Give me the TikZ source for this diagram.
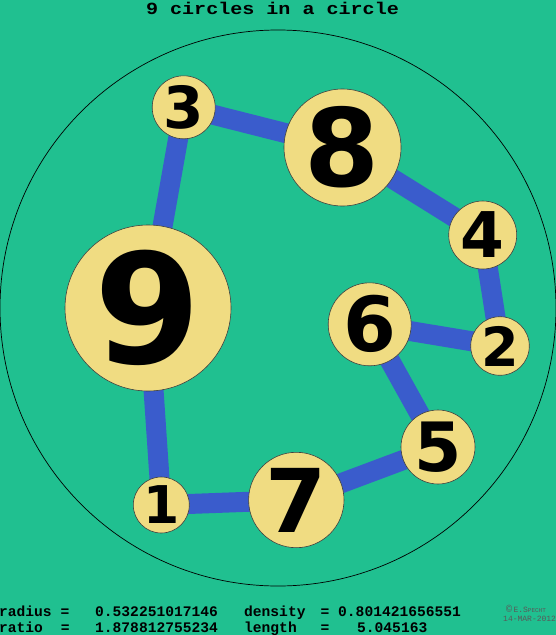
\documentclass[tikz,border=0pt]{standalone}
\usepackage{fontspec}
\usetikzlibrary{backgrounds}
\newfontfamily\monob{Liberation Mono Bold}
\newfontfamily\monot[FakeStretch=1.18]{Liberation Mono Bold}
\newfontfamily\monor{Liberation Mono}
\newfontfamily\digfont{DejaVu Sans Bold}
\definecolor{bggreen}{HTML}{20C090}
\definecolor{ballfill}{HTML}{F0DC82}
\definecolor{linkblue}{HTML}{3A5CCC}
\tikzset{
  ball/.style 2 args={circle, draw=black!75, line width=0.6pt, fill=ballfill, inner sep=0pt,
    minimum size=#1, font=\digfont\fontsize{#2}{#2}\selectfont},
  link/.style={draw=linkblue, line width=20pt},
  info/.style={anchor=base west, inner sep=0pt, font=\monob\fontsize{14.6}{16}\selectfont},
  stamp/.style={anchor=base west, inner sep=0pt, text=black!65, font=\monor\fontsize{8}{9}\selectfont}
}
\begin{document}
\begin{tikzpicture}[x=1pt,y=-1pt]
\useasboundingbox (0,0) rectangle (556,635);
\begin{scope}[on background layer]
  \fill[bggreen] (0,0) rectangle (556,635);
\end{scope}
\node[circle, draw=black, line width=0.7pt, inner sep=0pt, minimum size=556pt] (outer) at (278,308) {};
\node[ball={166pt}{153}] (n9) at (148,308) {9};
\node[ball={117pt}{108}] (n8) at (342.5,147.5) {8};
\node[ball={95.4pt}{88}] (n7) at (296.3,500) {7};
\node[ball={83pt}{76}] (n6) at (369.7,324.3) {6};
\node[ball={74pt}{68}] (n5) at (438,447) {5};
\node[ball={68pt}{63}] (n4) at (482.7,235) {4};
\node[ball={63pt}{58}] (n3) at (183.7,107.3) {3};
\node[ball={58.6pt}{54}] (n2) at (500,346) {2};
\node[ball={56pt}{52}] (n1) at (161.3,505) {1};
\begin{scope}[on background layer]
  \draw[link] (n9.center) -- (n3.center) -- (n8.center) -- (n4.center) -- (n2.center)
     -- (n6.center) -- (n5.center) -- (n7.center) -- (n1.center) -- (n9.center);
\end{scope}
\node[anchor=base, inner sep=0pt, font=\monot\fontsize{17}{19}\selectfont] (title) at (272.5,14) {9 circles in a circle};
\node[info] (l1a) at (-1,616) {radius =};
\node[info] (l1b) at (95,616) {0.532251017146};
\node[info] (l1c) at (244,616) {density};
\node[info] (l1d) at (320.5,616) {= 0.801421656551};
\node[info] (l2a) at (-1,632) {ratio};
\node[info] (l2b) at (60.6,632) {=};
\node[info] (l2c) at (95,632) {1.878812755234};
\node[info] (l2d) at (244,632) {length};
\node[info] (l2e) at (320.5,632) {=};
\node[info] (l2f) at (357,632) {5.045163};
\node[stamp] (cp1) at (506,612) {{\fontsize{10}{10}\selectfont ©}\,E.S{\fontsize{6}{7}\selectfont PECHT}};
\node[stamp] (cp2) at (503,621) {14-MAR-2012};
\end{tikzpicture}
\end{document}
